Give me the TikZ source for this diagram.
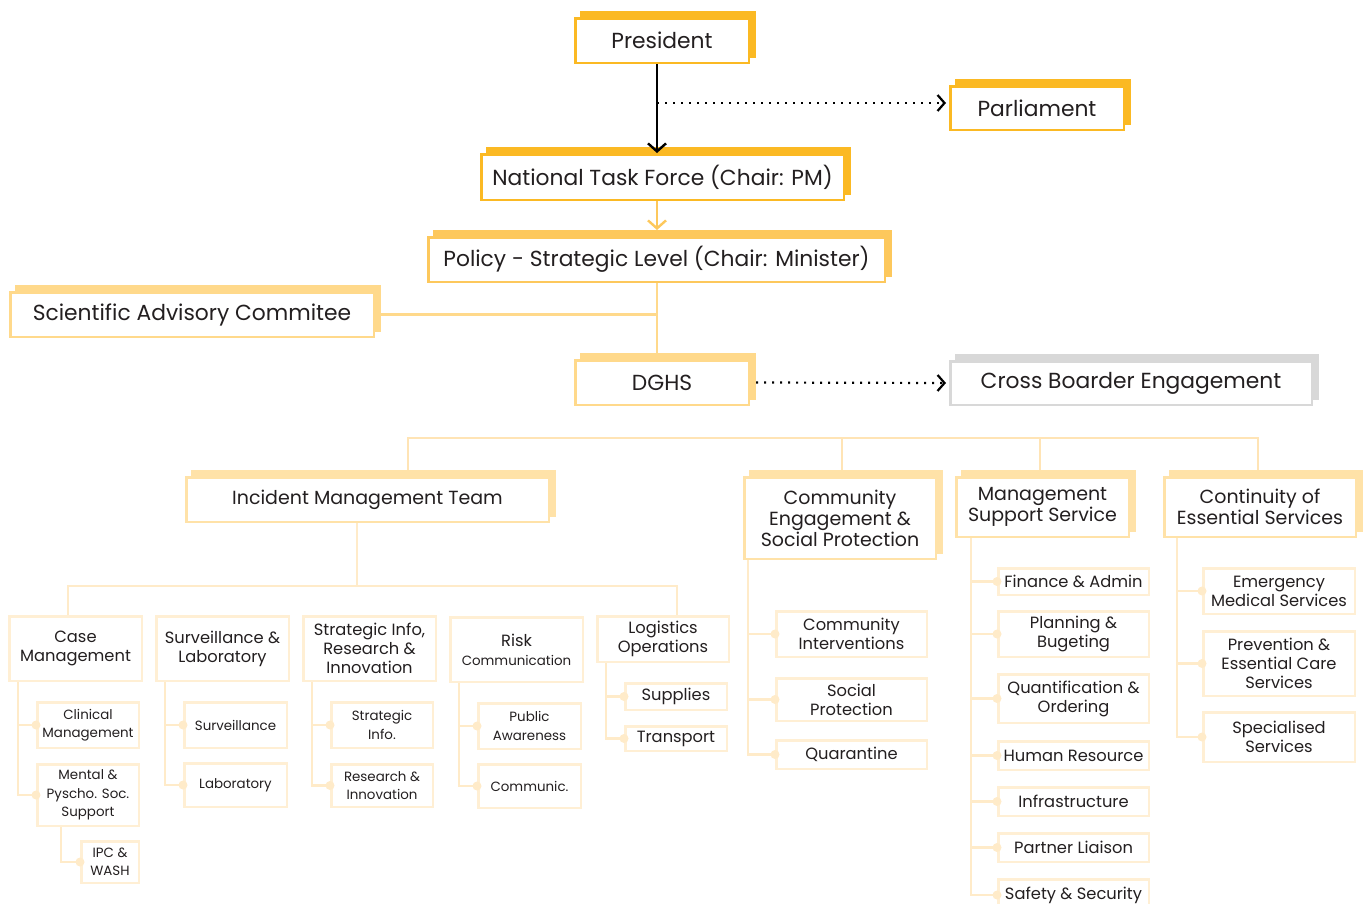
\documentclass[tikz,border=0pt]{standalone}
\usepackage{fontspec}
\setmainfont{Poppins}
\usetikzlibrary{shadows,arrows.meta}
\definecolor{gold}{HTML}{FBB923}
\definecolor{polc}{HTML}{FDC85C}
\definecolor{lite}{HTML}{FFD98B}
\definecolor{midc}{HTML}{FFE2A8}
\definecolor{pale}{HTML}{FFEFD4}
\definecolor{conn}{HTML}{FFEBC9}
\definecolor{busc}{HTML}{FFE4B5}
\definecolor{grayc}{HTML}{D8D8D8}
\definecolor{txt}{HTML}{231F20}
\begin{document}
\begin{tikzpicture}[x=1pt,y=-1pt,
  box/.style={fill=white, line width=2.5pt, inner sep=0pt, align=center, text=txt},
  sh/.style={draw=#1, copy shadow={shadow xshift=6pt, shadow yshift=6pt, fill=#1, draw=#1, line width=2.5pt}},
  leaf/.style={box, draw=pale},
  wh/.style 2 args={minimum width=#1-2.5, minimum height=#2-2.5},
  fA/.style={font=\fontsize{21.8}{25}\selectfont},
  fB/.style={font=\fontsize{19}{21}\selectfont},
  fC/.style={font=\fontsize{16.3}{19}\selectfont},
  fD/.style={font=\fontsize{13.4}{18.5}\selectfont},
  cn/.style={draw=conn, line width=2.5pt},
  tip/.style={-{Straight Barb[length=8pt,width=18pt,line width=2.4pt]}},
  dots/.style={line width=2.2pt, dash pattern=on 2pt off 6pt, -{Straight Barb[length=7pt,width=16pt,line width=2.2pt]}}
]
\useasboundingbox (0,0) rectangle (1369,903);

% ---------- top level ----------
\node[box, sh=gold, fA, wh={176}{47}] (pres) at (662,40.5) {President};
\node[box, sh=gold, fA, wh={176}{46}] (parl) at (1037,108) {Parliament};
\node[box, sh=gold, fA, wh={365}{48}] (ntf) at (662.5,177) {National Task Force (Chair: PM)};
\node[box, sh=polc, fA, wh={459}{47}] (pol) at (656.5,259.5) {Policy - Strategic Level (Chair: Minister)};
\node[box, sh=lite, fA, wh={366}{47}] (sci) at (192,314.5) {Scientific Advisory Commitee};
\node[box, sh=lite, fA, wh={176}{47}] (dghs) at (662,382.5) {DGHS};
\node[box, sh=grayc, fA, wh={364}{46}] (cbe) at (1131,383) {Cross Boarder Engagement};

\coordinate (axis) at (657,0);
\coordinate (pd) at (946,103);
\draw[line width=2.5pt, black, tip] (pres.south -| axis) -- (ntf.north -| axis);
\draw[dots] (axis |- pd) -- (pd);
\draw[line width=2.2pt, polc, tip] (ntf.south -| axis) -- ([yshift=6pt]pol.north -| axis);
\draw[line width=2.5pt, lite] (pol.south -| axis) -- ([yshift=6pt]dghs.north -| axis);
\draw[line width=2.5pt, lite] ([xshift=6pt]sci.east) -- (sci.east -| axis);
\draw[dots] ([xshift=6pt]dghs.east) -- ([xshift=-3pt]cbe.west);

% ---------- second level ----------
\node[box, sh=midc, fB, wh={365}{47}] (imt) at (367.5,499.5) {Incident Management Team};
\node[box, sh=midc, fB, wh={194}{84}] (ceg) at (840,518) {Community\\Engagement \&\\Social Protection};
\node[box, sh=midc, fB, wh={175}{62}] (mss) at (1042.5,507) {Management\\Support Service};
\node[box, sh=midc, fB, wh={194}{62}] (ces) at (1260,507) {Continuity of\\Essential Services};

\coordinate (busL) at (408,438);
\coordinate (busR) at (1258,438);
\draw[line width=2.5pt, busc] ([yshift=6pt]imt.north -| busL) -- (busL) -- (busR) -- ([yshift=6pt]ces.north -| busR);
\draw[line width=2.5pt, busc] ([yshift=6pt]ceg.north -| 842,0) -- (842,438);
\draw[line width=2.5pt, busc] ([yshift=6pt]mss.north -| 1040,0) -- (1040,438);

% ---------- IMT sections ----------
\node[leaf, fC, wh={135}{67}] (cm) at (75.5,648.5) {Case\\Management};
\node[leaf, fC, wh={135}{67}] (sl) at (222.5,648.5) {Surveillance \&\\Laboratory};
\node[leaf, fC, wh={135}{67}] (si) at (369.5,648.5) {Strategic Info,\\Research \&\\Innovation};
\node[leaf, fC, wh={135}{67}] (rc) at (516.5,649.5) {Risk\\{\fontsize{13.4}{15}\selectfont Communication}};
\node[leaf, fC, wh={134}{48}] (lo) at (663,639) {Logistics\\Operations};

\coordinate (imtx) at (357,586);
\coordinate (cmtop) at (68,586);
\coordinate (lotop) at (677,586);
\draw[cn] (imt.south -| imtx) -- (imtx);
\draw[cn] (cm.north -| cmtop) -- (cmtop) -- (lotop) -- (lo.north -| lotop);

% leaves
\node[leaf, fD, wh={104}{48}] (clin) at (88,725) {Clinical\\Management};
\node[leaf, fD, wh={104}{64}] (ment) at (88,795) {Mental \&\\Pyscho. Soc.\\Support};
\node[leaf, fD, wh={60}{44}] (ipc) at (110,862) {IPC \&\\WASH};
\node[leaf, fD, wh={105}{48}] (surv) at (235.5,725) {Surveillance};
\node[leaf, fD, wh={105}{46}] (lab) at (235.5,785) {Laboratory};
\node[leaf, fD, wh={104}{48}] (sinf) at (382,725) {Strategic\\Info.};
\node[leaf, fD, wh={104}{45}] (rin) at (382,785.5) {Research \&\\Innovation};
\node[leaf, fD, wh={105}{48}] (pa) at (529.5,726) {Public\\Awareness};
\node[leaf, fD, wh={105}{46}] (com) at (529.5,786) {Communic.};
\node[leaf, fC, wh={104}{29}] (sup) at (676,696.5) {Supplies};
\node[leaf, fC, wh={104}{27}] (tra) at (676,738.5) {Transport};

\node[leaf, fC, wh={153}{48}] (ci) at (851.5,634) {Community\\Interventions};
\node[leaf, fC, wh={153}{45}] (sp) at (851.5,699.5) {Social\\Protection};
\node[leaf, fC, wh={153}{31}] (qu) at (851.5,754.5) {Quarantine};

\node[leaf, fC, wh={153}{29}] (fa) at (1073.5,581.5) {Finance \& Admin};
\node[leaf, fC, wh={153}{48}] (pb) at (1073.5,634) {Planning \&\\Bugeting};
\node[leaf, fC, wh={153}{51}] (qo) at (1073.5,698.5) {Quantification \&\\Ordering};
\node[leaf, fC, wh={153}{31}] (hr) at (1073.5,755.5) {Human Resource};
\node[leaf, fC, wh={153}{31}] (inf) at (1073.5,801.5) {Infrastructure};
\node[leaf, fC, wh={153}{31}] (pl) at (1073.5,847.5) {Partner Liaison};
\node[leaf, fC, wh={153}{34}] (ss) at (1073.5,895) {Safety \& Security};

\node[leaf, fC, wh={154}{48}] (ems) at (1279,591) {Emergency\\Medical Services};
\node[leaf, fC, wh={154}{67}] (pec) at (1279,663.5) {Prevention \&\\Essential Care\\Services};
\node[leaf, fC, wh={154}{52}] (spc) at (1279,737) {Specialised\\Services};

% branches
\foreach \p/\c/\dx in {cm/clin/10, cm/ment/10, sl/surv/10, sl/lab/10, si/sinf/10, si/rin/10,
  rc/pa/10, rc/com/10, lo/sup/10, lo/tra/10, ment/ipc/25,
  ceg/ci/5, ceg/sp/5, ceg/qu/5,
  mss/fa/16, mss/pb/16, mss/qo/16, mss/hr/16, mss/inf/16, mss/pl/16, mss/ss/16,
  ces/ems/14, ces/pec/14, ces/spc/14}{
  \draw[cn] ([xshift=\dx pt]\p.south west) |- (\c.west);
  \fill[conn] (\c.west) circle (4.5pt);
}
\end{tikzpicture}
\end{document}
